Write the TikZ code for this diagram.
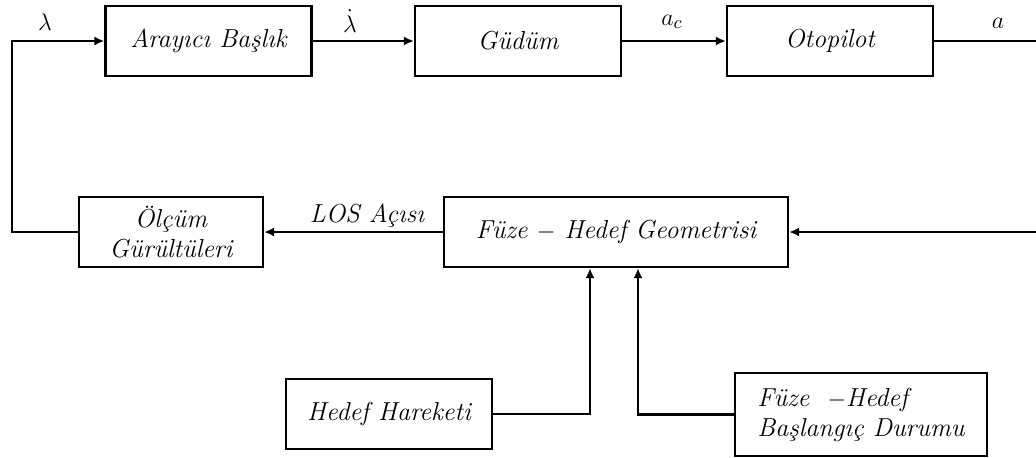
\documentclass[tikz,border=0pt]{standalone}
\usepackage{amsmath, amssymb}
\usepackage{tikz}
\usetikzlibrary{calc, positioning, arrows.meta}

\tikzset{
    blok/.style={draw, line width=1.1pt, minimum width=103pt, minimum height=35pt,
        inner sep=2pt, font=\fontsize{13}{15}\selectfont\itshape},
    etiket/.style={inner sep=1pt, font=\fontsize{13}{15}\selectfont\itshape},
    hat/.style={line width=1.1pt}
}

\begin{document}
\begin{tikzpicture}[>={Latex[length=5pt,width=4.5pt]}, x=0.5pt, y=-0.5pt]
    \useasboundingbox (0,0) rectangle (1036,457);

    % 1. Üst sıra bloklar
    \node[blok] (seeker) at (208.5,41) {Arayıcı Başlık};
    \node[blok] (guide) at (518,41) {Güdüm};
    \node[blok] (autop) at (830,41) {Otopilot};

    % 2. Alt sıra bloklar
    \node[blok, minimum width=92pt, align=center] (noise) at (171,232) {Ölçüm\\Gürültüleri};
    \node[blok, minimum width=172pt] (geom) at (616,232) {Füze $-$\ Hedef Geometrisi};
    \node[blok] (tgt) at (389,414) {Hedef Hareketi};
    \node[blok, minimum width=126pt, minimum height=41.5pt, align=left] (init) at (861,414.5)
        {Füze\ \ $-$Hedef\\Başlangıç Durumu};

    % 3. Giriş / çıkış uçları
    \coordinate (in) at (12,41);
    \coordinate (out) at (1036,41);
    \coordinate (rin) at (1036,232);

    % 4. Bağlantılar
    \draw[hat,->] (noise.west) -| (in) -- (seeker.west);
    \draw[hat,->] (seeker) -- (guide);
    \draw[hat,->] (guide) -- (autop);
    \draw[hat] (autop) -- (out);
    \draw[hat,->] (rin) -- (geom);
    \draw[hat,->] (geom) -- (noise);
    \draw[hat,->] (tgt.east) -| ($(geom.south)+(-26,0)$);
    \draw[hat,->] (init.west) -| ($(geom.south)+(22,0)$);

    % 5. Sinyal etiketleri
    \node[etiket] (lam) at (45,22) {$\lambda$};
    \node[etiket] (lamd) at (350,21) {$\dot{\lambda}$};
    \node[etiket] (ac) at (672,22) {$a_c$};
    \node[etiket] (acc) at (998,23) {$a$};
    \node[etiket] (los) at (367,216) {LOS Açısı};
\end{tikzpicture}
\end{document}
